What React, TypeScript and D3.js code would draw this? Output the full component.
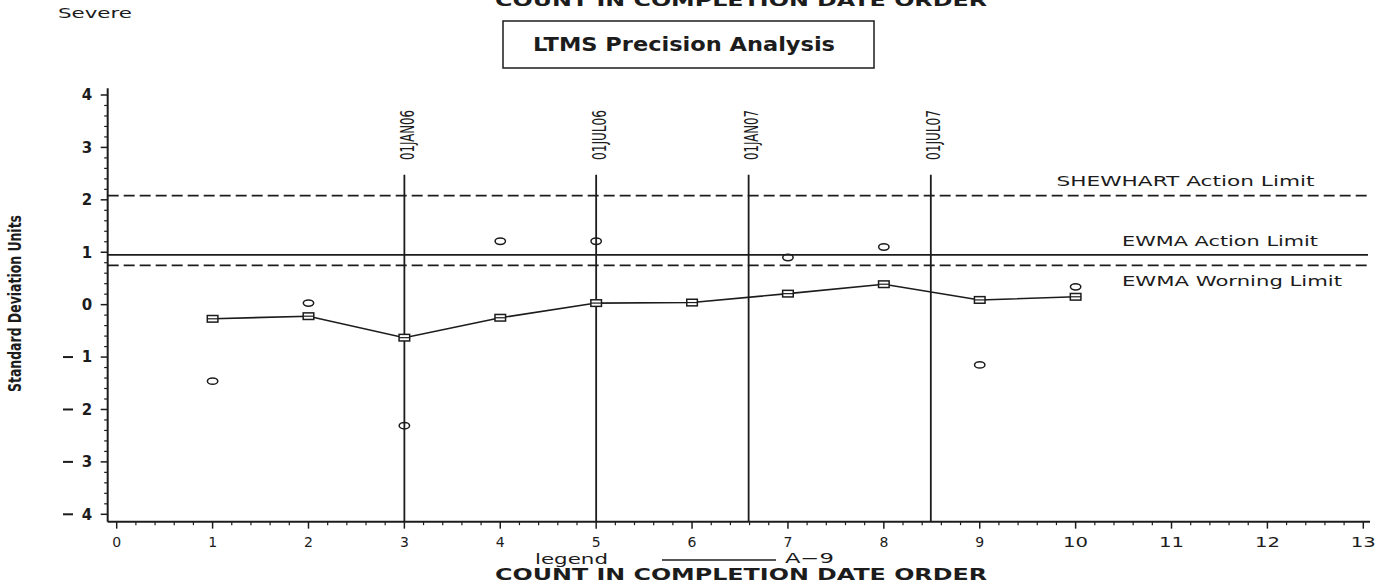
import React from "react";
import * as d3 from "d3";

// ---- data ----
const counts = [1, 2, 3, 4, 5, 6, 7, 8, 9, 10];
const resultValues: (number | null)[] = [-1.46, 0.03, -2.31, 1.21, 1.21, null, 0.9, 1.1, -1.15, 0.34];
const ewmaValues = [-0.27, -0.22, -0.63, -0.25, 0.03, 0.04, 0.21, 0.39, 0.09, 0.15];
const xTickValues = [0, 1, 2, 3, 4, 5, 6, 7, 8, 9, 10, 11, 12, 13];
const yTickValues = [-4, -3, -2, -1, 0, 1, 2, 3, 4];
const dateLabels = ["01JAN06", "01JUL06", "01JAN07", "01JUL07"];
const datePositions = [3, 5, 6.59, 8.49];
const limitNames = ["SHEWHART Action Limit", "EWMA Action Limit", "EWMA Worning Limit"];
const limitValues = [2.08, 0.95, 0.75];
const limitDashed = [true, false, true];

const W = 1393;
const H = 586;
const INK = "#1c1c1c";
const WIDE = "'DejaVu Sans', Verdana, sans-serif";
const NARROW = "'Liberation Sans Narrow', 'DejaVu Sans Condensed', 'Arial Narrow', sans-serif";

export default function App() {
  const x = d3.scaleLinear().domain([0, 13]).range([116.7, 1363.3]);
  const y = d3.scaleLinear().domain([-4, 4]).range([514.3, 95]);
  const xMin = -0.094;
  const xMax = 13.07;
  const yMin = -4.14;
  const yMax = 4.13;
  const x0 = x(xMin);
  const x1 = x(xMax);
  const yBottom = y(yMin);
  const yTop = y(yMax);

  const minorX = d3.range(0, 13.001, 0.2).filter((v) => Math.abs(v - Math.round(v)) > 1e-6);
  const minorY = d3.range(-4, 4.001, 0.2).filter((v) => Math.abs(v - Math.round(v)) > 1e-6);

  const ewmaLine = d3
    .line<number>()
    .x((_, i) => x(counts[i]))
    .y((d) => y(d));

  const limitLabelX = [1056.5, 1122, 1122];
  const limitLabelLen = [258, 196, 220];
  const limitLabelDy = [-9.5, -8.5, 21];

  return (
    <svg
      width={W}
      height={H}
      style={{ position: "absolute", left: 0, top: 0, background: "#fff" }}
      xmlns="http://www.w3.org/2000/svg"
    >
      <rect x={0} y={0} width={W} height={H} fill="#fff" />

      {/* top title (cut off at the page edge as in the original) */}
      <text x={495} y={5.5} fontFamily={WIDE} fontWeight="bold" fontSize={16.5} fill={INK} textLength={492} lengthAdjust="spacingAndGlyphs">
        COUNT IN COMPLETION DATE ORDER
      </text>
      <text x={58} y={18.3} fontFamily={WIDE} fontSize={14} fill={INK} textLength={74} lengthAdjust="spacingAndGlyphs">
        Severe
      </text>

      {/* boxed title */}
      <rect x={503} y={21} width={371} height={47} fill="none" stroke={INK} strokeWidth={1.5} />
      <text x={533} y={50.5} fontFamily={WIDE} fontWeight="bold" fontSize={19} fill={INK} textLength={302} lengthAdjust="spacingAndGlyphs">
        LTMS Precision Analysis
      </text>

      {/* y axis */}
      <line x1={x0} x2={x0} y1={yTop} y2={yBottom} stroke={INK} strokeWidth={2} />
      {yTickValues.map((v) => (
        <g key={"yt" + v}>
          <line x1={x0 - 7} x2={x0} y1={y(v)} y2={y(v)} stroke={INK} strokeWidth={1.5} />
          <text x={87} y={y(v)} dy="0.36em" textAnchor="middle" fontFamily={WIDE} fontWeight="bold" fontSize={15} fill={INK}>
            {Math.abs(v)}
          </text>
          {v < 0 && (
            <line x1={63} x2={73} y1={y(v)} y2={y(v)} stroke={INK} strokeWidth={2} />
          )}
        </g>
      ))}
      {minorY.map((v) => (
        <line key={"ym" + v} x1={x0 - 3.5} x2={x0} y1={y(v)} y2={y(v)} stroke={INK} strokeWidth={1.2} />
      ))}
      <text
        transform={`translate(21,303.5) rotate(-90)`}
        textAnchor="middle"
        fontFamily={NARROW}
        fontWeight="bold"
        fontSize={18}
        fill={INK}
        textLength={177}
        lengthAdjust="spacingAndGlyphs"
      >
        Standard Deviation Units
      </text>

      {/* x axis */}
      <line x1={x0} x2={x1} y1={yBottom} y2={yBottom} stroke={INK} strokeWidth={2} />
      {xTickValues.map((v) => {
        const s = String(v);
        return (
          <g key={"xt" + v}>
            <line x1={x(v)} x2={x(v)} y1={yBottom} y2={yBottom + 7} stroke={INK} strokeWidth={1.5} />
            <text
              x={x(v)}
              y={547}
              textAnchor="middle"
              fontFamily={WIDE}
              fontSize={14}
              fill={INK}
              {...(s.length > 1 ? { textLength: 25, lengthAdjust: "spacingAndGlyphs" } : {})}
            >
              {s}
            </text>
          </g>
        );
      })}
      {minorX.map((v) => (
        <line key={"xm" + v} x1={x(v)} x2={x(v)} y1={yBottom} y2={yBottom + 3.5} stroke={INK} strokeWidth={1.2} />
      ))}

      {/* limit lines */}
      {limitValues.map((v, i) => (
        <g key={"lim" + i}>
          <line
            x1={x0}
            x2={x1 - 2}
            y1={y(v)}
            y2={y(v)}
            stroke={INK}
            strokeWidth={limitDashed[i] ? 1.6 : 1.8}
            strokeDasharray={limitDashed[i] ? "11,5" : undefined}
          />
          <text
            x={limitLabelX[i]}
            y={y(v) + limitLabelDy[i]}
            fontFamily={WIDE}
            fontSize={13.5}
            fill={INK}
            textLength={limitLabelLen[i]}
            lengthAdjust="spacingAndGlyphs"
          >
            {limitNames[i]}
          </text>
        </g>
      ))}

      {/* date reference lines */}
      {datePositions.map((p, i) => (
        <g key={"dl" + i}>
          <line x1={x(p)} x2={x(p)} y1={y(2.48)} y2={yBottom} stroke={INK} strokeWidth={1.8} />
          <text
            transform={`translate(${x(p) + 9.5},160) rotate(-90)`}
            fontFamily={NARROW}
            fontSize={19}
            fill={INK}
            textLength={50}
            lengthAdjust="spacingAndGlyphs"
          >
            {dateLabels[i]}
          </text>
        </g>
      ))}

      {/* EWMA line */}
      <path d={ewmaLine(ewmaValues) || ""} fill="none" stroke={INK} strokeWidth={1.6} />
      {ewmaValues.map((v, i) => (
        <g key={"sq" + i}>
          <rect x={x(counts[i]) - 5.3} y={y(v) - 3.3} width={10.6} height={6.6} fill="#fff" stroke={INK} strokeWidth={1.5} />
          <line x1={x(counts[i]) - 5.3} x2={x(counts[i]) + 5.3} y1={y(v)} y2={y(v)} stroke={INK} strokeWidth={1.2} />
        </g>
      ))}

      {/* individual results */}
      {resultValues.map((v, i) =>
        v === null ? null : (
          <ellipse key={"c" + i} cx={x(counts[i])} cy={y(v)} rx={5.2} ry={3.2} fill="none" stroke={INK} strokeWidth={1.5} />
        )
      )}

      {/* legend + x label */}
      <text x={535} y={564} fontFamily={WIDE} fontSize={14} fill={INK} textLength={73} lengthAdjust="spacingAndGlyphs">
        legend
      </text>
      <line x1={662} x2={776} y1={560} y2={560} stroke={INK} strokeWidth={1.6} />
      <text x={785} y={563} fontFamily={WIDE} fontSize={14} fill={INK} textLength={49} lengthAdjust="spacingAndGlyphs">
        A−9
      </text>
      <text x={495} y={580} fontFamily={WIDE} fontWeight="bold" fontSize={16.5} fill={INK} textLength={492} lengthAdjust="spacingAndGlyphs">
        COUNT IN COMPLETION DATE ORDER
      </text>
    </svg>
  );
}
